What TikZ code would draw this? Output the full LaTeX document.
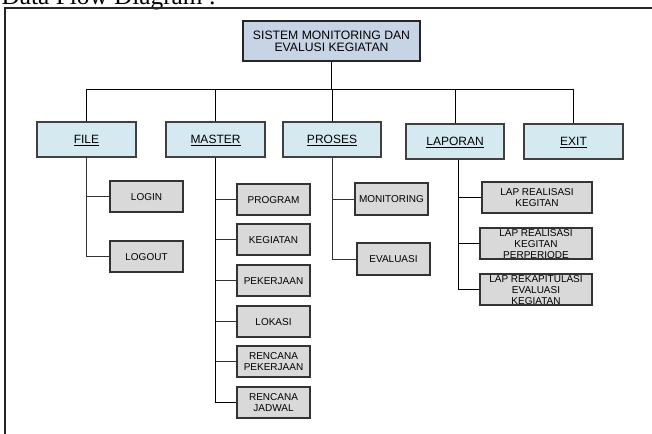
\documentclass[tikz,border=0pt]{standalone}
\usepackage{fontspec}
\setmainfont{Liberation Sans}
\newfontfamily\titlefont{Liberation Serif}
\definecolor{rootfill}{HTML}{C7D4E6}
\definecolor{menufill}{HTML}{D4EAF0}
\definecolor{itemfill}{HTML}{D9D9D9}
% centred text that does not enlarge its box
\newcommand\boxtext[1]{\raisebox{-0.75ex}[0pt][0pt]{\begin{tabular}{@{}c@{}}#1\end{tabular}}}
\tikzset{
  rootbox/.style={draw=black!85, line width=1.1pt, fill=rootfill, inner sep=0pt,
    minimum width=177pt, minimum height=40pt, font=\fontsize{12.2}{12.7}\selectfont},
  menubox/.style={draw=black!75, line width=1.1pt, fill=menufill, inner sep=0pt,
    minimum height=35pt, font=\fontsize{12}{13}\selectfont},
  itembox/.style={draw=black!80, line width=1.1pt, fill=itemfill, inner sep=0pt,
    minimum width=73pt, minimum height=31pt, font=\fontsize{10}{11}\selectfont},
  link/.style={draw=black!80, line width=0.9pt},
}
\begin{document}
\begin{tikzpicture}[x=1pt, y=-1pt]
\useasboundingbox (0,0) rectangle (652,433);
\clip (0,0) rectangle (652,433);

% heading, partly cut off at the top, and the frame
\node[anchor=base west, inner sep=0pt, font=\titlefont\fontsize{25.3}{27}\selectfont] (title) at (1.5,4.2) {Data Flow Diagram :};
\draw[line width=1.3pt, black!85] (5,440) -- (5,8) -- (660,8);

% root
\node[rootbox] (root) at (331.5,41) {\boxtext{SISTEM MONITORING DAN\\EVALUSI KEGIATAN}};

% main menu
\node[menubox, minimum width=99pt] (file)    at (86.5,139.5) {\boxtext{\underline{FILE}}};
\node[menubox, minimum width=99pt] (master)  at (215.5,139.5) {\boxtext{\underline{MASTER}}};
\node[menubox, minimum width=98pt] (proses)  at (332,139.5) {\boxtext{\underline{PROSES}}};
\node[menubox, minimum width=98pt] (laporan) at (455,141.5) {\boxtext{\underline{LAPORAN}}};
\node[menubox, minimum width=99pt] (exit)    at (573.5,141.5) {\boxtext{\underline{EXIT}}};

% FILE items
\node[itembox] (login)  at (146.5,196.5) {\boxtext{LOGIN}};
\node[itembox] (logout) at (146.5,256.5) {\boxtext{LOGOUT}};

% MASTER items
\node[itembox] (program)   at (273.5,199.5) {\boxtext{PROGRAM}};
\node[itembox] (kegiatan)  at (273.5,239.5) {\boxtext{KEGIATAN}};
\node[itembox] (pekerjaan) at (273.5,280.5) {\boxtext{PEKERJAAN}};
\node[itembox] (lokasi)    at (273.5,321.5) {\boxtext{LOKASI}};
\node[itembox] (rpekerjaan) at (273.5,361.5) {\boxtext{RENCANA\\PEKERJAAN}};
\node[itembox] (rjadwal)   at (273.5,402.5) {\boxtext{RENCANA\\JADWAL}};

% PROSES items
\node[itembox, minimum height=32pt] (monitoring) at (391.5,199) {\boxtext{MONITORING}};
\node[itembox, minimum height=32pt] (evaluasi)   at (393.5,259) {\boxtext{EVALUASI}};

% LAPORAN items
\node[itembox, minimum width=110pt] (lap1) at (537,197.5) {\boxtext{LAP REALISASI\\KEGITAN}};
\node[itembox, minimum width=112pt] (lap2) at (536,243.5) {\boxtext{LAP REALISASI\\KEGITAN\\PERPERIODE}};
\node[itembox, minimum width=112pt] (lap3) at (536,289.5) {\boxtext{LAP REKAPITULASI\\EVALUASI\\KEGIATAN}};

% root to main menu
\coordinate (bus) at (0,89);
\draw[link, black] (root.south) -- (root.south |- bus);
\draw[link, black] (file.north |- bus) -- (exit.north |- bus);
\foreach \m in {file,master,proses,laporan,exit}
  \draw[link, black] (\m.north |- bus) -- (\m.north);

% FILE branch
\draw[link] (file.south) |- (logout.west);
\draw[link] (login.west) -- (login.west -| file.south);

% MASTER branch
\draw[link, black] (master.south) |- (rjadwal.west);
\foreach \c in {program,kegiatan,pekerjaan,lokasi,rpekerjaan}
  \draw[link] (\c.west) -- (\c.west -| master.south);

% PROSES branch
\draw[link] (proses.south) |- (evaluasi.west);
\draw[link] (monitoring.west) -- (monitoring.west -| proses.south);

% LAPORAN branch
\coordinate (lapspine) at ([xshift=3pt]laporan.south);
\draw[link, black] (lapspine) |- (lap3.west);
\foreach \c in {lap1,lap2}
  \draw[link, black] (\c.west) -- (\c.west -| lapspine);
\end{tikzpicture}
\end{document}
